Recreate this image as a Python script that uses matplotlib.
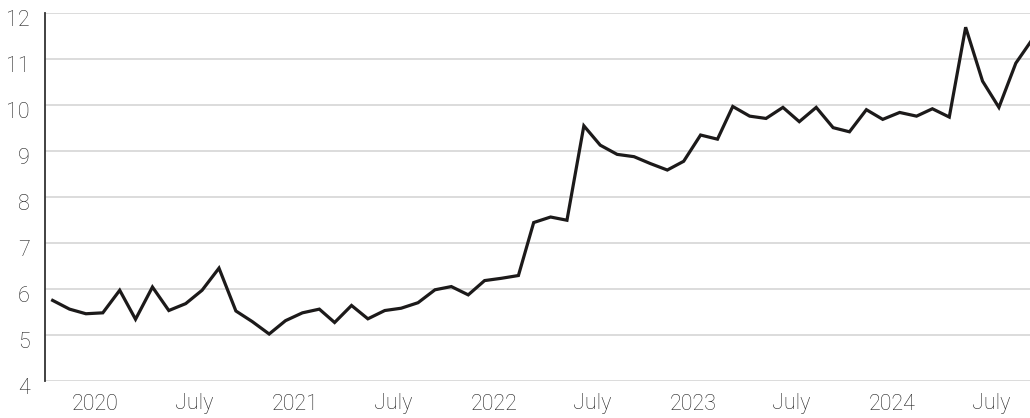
import matplotlib.pyplot as plt
import matplotlib.transforms as mtransforms
import pandas as pd

# monthly values, Oct 2019 .. Sep 2024 (plotted mid-month)
start_month = '2019-10-01'
values = [
    5.75, 5.56, 5.46, 5.48, 5.97, 5.34, 6.04, 5.53, 5.68, 5.97,
    6.45, 5.52, 5.29, 5.02, 5.31, 5.48, 5.56, 5.27, 5.64, 5.35,
    5.53, 5.58, 5.70, 5.98, 6.05, 5.87, 6.18, 6.23, 6.29, 7.44,
    7.56, 7.49, 9.54, 9.12, 8.92, 8.87, 8.72, 8.58, 8.77, 9.34,
    9.25, 9.96, 9.75, 9.70, 9.94, 9.63, 9.94, 9.50, 9.41, 9.89,
    9.68, 9.83, 9.75, 9.91, 9.73, 11.68, 10.51, 9.94, 10.90, 11.43,
]
tick_dates = ['2020-01-01', '2020-07-01', '2021-01-01', '2021-07-01',
              '2022-01-01', '2022-07-01', '2023-01-01', '2023-07-01',
              '2024-01-01', '2024-07-01']
tick_labels = ['2020', 'July', '2021', 'July', '2022', 'July',
               '2023', 'July', '2024', 'July']
y_ticks = [4, 5, 6, 7, 8, 9, 10, 11, 12]

dates = pd.date_range(start_month, periods=len(values), freq='MS') + pd.Timedelta(days=14)

plt.rcParams['font.family'] = ['Roboto', 'DejaVu Sans']
plt.rcParams['font.weight'] = 'light'

W, H = 1030, 418
fig = plt.figure(figsize=(W / 100, H / 100), dpi=100)
ax = fig.add_axes([45 / W, (H - 381) / H, (1030 - 45) / W, (381 - 12.5) / H])

for y in y_ticks:
    ax.axhline(y, color='#d2d2d2', linewidth=1.1, zorder=1)

ax.plot(dates, values, color='#1c1a1a', linewidth=2.3,
        solid_joinstyle='miter', zorder=3)

ax.set_xlim(pd.Timestamp('2019-10-01'), pd.Timestamp('2024-09-10'))
ax.set_ylim(4, 12)

ax.set_xticks([pd.Timestamp(d) for d in tick_dates])
ax.set_xticklabels(tick_labels)
ax.set_yticks(y_ticks)
ax.set_yticklabels([str(v) for v in y_ticks])

ax.tick_params(axis='both', length=0, labelsize=15.5, colors='#222222')
ax.tick_params(axis='x', pad=9)
ax.tick_params(axis='y', pad=11)

# y labels sit a little below their gridlines
shift = mtransforms.ScaledTranslation(0, -5 / 100, fig.dpi_scale_trans)
for lbl in ax.get_yticklabels():
    lbl.set_transform(lbl.get_transform() + shift)

for side in ['top', 'right', 'bottom']:
    ax.spines[side].set_visible(False)
ax.spines['left'].set_color('#333333')
ax.spines['left'].set_linewidth(1.3)

fig.savefig('out.png', dpi=100)
